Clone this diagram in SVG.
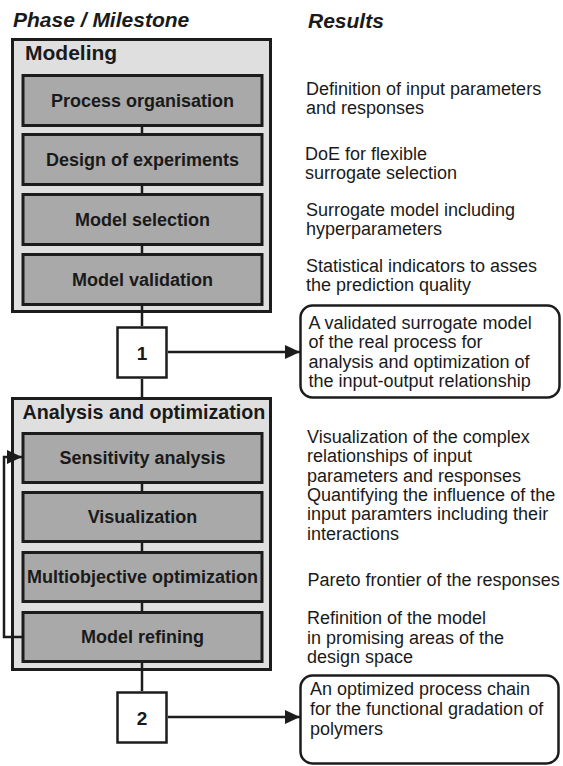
<svg xmlns="http://www.w3.org/2000/svg" width="563" height="766" viewBox="0 0 563 766">
<style>
.hdr{font-family:"Liberation Sans",Arial,sans-serif;font-weight:bold;font-style:italic;font-size:21px;fill:#1a1a1a}
.phase{fill:#dfdfdf;stroke:#1c1c1c;stroke-width:3}
.ptitle{font-family:"Liberation Sans",Arial,sans-serif;font-weight:bold;font-size:21px;fill:#1a1a1a}
.step{fill:#a9a9a9;stroke:#1c1c1c;stroke-width:3}
.lbl{font-family:"Liberation Sans",Arial,sans-serif;font-weight:bold;font-size:18px;fill:#1a1a1a;text-anchor:middle}
.ms{fill:#ffffff;stroke:#1c1c1c;stroke-width:2.5}
.msl{font-family:"Liberation Sans",Arial,sans-serif;font-weight:bold;font-size:19px;fill:#1a1a1a;text-anchor:middle}
.res{font-family:"Liberation Sans",Arial,sans-serif;font-size:18px;fill:#1a1a1a}
.rbox{fill:#ffffff;stroke:#1c1c1c;stroke-width:2.5}
.con{stroke:#1c1c1c;stroke-width:2.5;fill:none}
</style>
<defs>
<marker id="ah" markerUnits="userSpaceOnUse" markerWidth="15" markerHeight="14" refX="15" refY="7" orient="auto">
<path d="M0,0 L15,7 L0,14 z" fill="#1c1c1c"/>
</marker>
</defs>

<text class="hdr" x="13" y="27">Phase / Milestone</text>
<text class="hdr" x="308" y="28">Results</text>

<g id="phase-modeling">
<rect class="phase" x="12.5" y="39.5" width="258" height="272"/>
<text class="ptitle" x="25" y="60">Modeling</text>
</g>
<g id="phase-analysis">
<rect class="phase" x="12.5" y="398.5" width="258" height="271"/>
<text class="ptitle" x="22.5" y="419" style="font-size:19.7px">Analysis and optimization</text>
</g>

<g id="connectors">
<line class="con" x1="142" y1="127" x2="142" y2="133"/>
<line class="con" x1="142" y1="186" x2="142" y2="193"/>
<line class="con" x1="142" y1="245" x2="142" y2="253"/>
<line class="con" x1="142" y1="306" x2="142" y2="326"/>
<line class="con" x1="142" y1="379" x2="142" y2="398"/>
<line class="con" x1="142" y1="483" x2="142" y2="491"/>
<line class="con" x1="142" y1="543" x2="142" y2="551"/>
<line class="con" x1="142" y1="603" x2="142" y2="611"/>
<line class="con" x1="142" y1="662" x2="142" y2="691"/>
<line class="con" x1="168" y1="352" x2="300" y2="352" marker-end="url(#ah)"/>
<line class="con" x1="168" y1="717" x2="300" y2="717" marker-end="url(#ah)"/>
<polyline class="con" points="22,637 4,637 4,457 22,457" stroke-width="2" marker-end="url(#ah)"/>
</g>

<g id="process-organisation">
<rect class="step" x="23" y="75.5" width="239" height="50"/>
<text class="lbl" x="142.5" y="107">Process organisation</text>
</g>
<g id="design-of-experiments">
<rect class="step" x="23" y="134.5" width="239" height="50"/>
<text class="lbl" x="142.5" y="166">Design of experiments</text>
</g>
<g id="model-selection">
<rect class="step" x="23" y="194.5" width="239" height="50"/>
<text class="lbl" x="142.5" y="225.5">Model selection</text>
</g>
<g id="model-validation">
<rect class="step" x="23" y="254.5" width="239" height="50"/>
<text class="lbl" x="142.5" y="286">Model validation</text>
</g>

<g id="milestone-1">
<rect class="ms" x="117.5" y="327.5" width="49" height="50"/>
<text class="msl" x="142" y="360">1</text>
</g>

<g id="sensitivity-analysis">
<rect class="step" x="23" y="433.5" width="239" height="49"/>
<text class="lbl" x="142.5" y="463.5">Sensitivity analysis</text>
</g>
<g id="visualization">
<rect class="step" x="23" y="492.5" width="239" height="49"/>
<text class="lbl" x="142.5" y="523">Visualization</text>
</g>
<g id="multiobjective-optimization">
<rect class="step" x="23" y="552.5" width="239" height="49"/>
<text class="lbl" x="142.5" y="583">Multiobjective optimization</text>
</g>
<g id="model-refining">
<rect class="step" x="23" y="612.5" width="239" height="49"/>
<text class="lbl" x="142.5" y="642.5">Model refining</text>
</g>

<g id="milestone-2">
<rect class="ms" x="117.5" y="692.5" width="49" height="50"/>
<text class="msl" x="142" y="725">2</text>
</g>

<g id="results">
<text class="res" x="306" y="95">Definition of input parameters</text>
<text class="res" x="306" y="114">and responses</text>
<text class="res" x="305" y="159.5">DoE for flexible</text>
<text class="res" x="305" y="178.5">surrogate selection</text>
<text class="res" x="306" y="216">Surrogate model including</text>
<text class="res" x="306" y="235">hyperparameters</text>
<text class="res" x="306" y="272">Statistical indicators to asses</text>
<text class="res" x="306" y="291">the prediction quality</text>
<text class="res" x="307" y="443">Visualization of the complex</text>
<text class="res" x="307" y="462">relationships of input</text>
<text class="res" x="307" y="481.5">parameters and responses</text>
<text class="res" x="307" y="501">Quantifying the influence of the</text>
<text class="res" x="307" y="520">input paramters including their</text>
<text class="res" x="307" y="539.5">interactions</text>
<text class="res" x="307.5" y="586">Pareto frontier of the responses</text>
<text class="res" x="307" y="624">Refinition of the model</text>
<text class="res" x="307" y="643.5">in promising areas of the</text>
<text class="res" x="307" y="663">design space</text>
</g>

<g id="result-milestone-1">
<rect class="rbox" x="300.5" y="305.5" width="259" height="92" rx="12"/>
<text class="res" x="308.5" y="329">A validated surrogate model</text>
<text class="res" x="308.5" y="348">of the real process for</text>
<text class="res" x="308.5" y="367.5">analysis and optimization of</text>
<text class="res" x="308.5" y="386.5">the input-output relationship</text>
</g>

<g id="result-milestone-2">
<rect class="rbox" x="300.5" y="675.5" width="258" height="88" rx="12"/>
<text class="res" x="310" y="695">An optimized process chain</text>
<text class="res" x="310" y="715">for the functional gradation of</text>
<text class="res" x="310" y="735">polymers</text>
</g>
</svg>
